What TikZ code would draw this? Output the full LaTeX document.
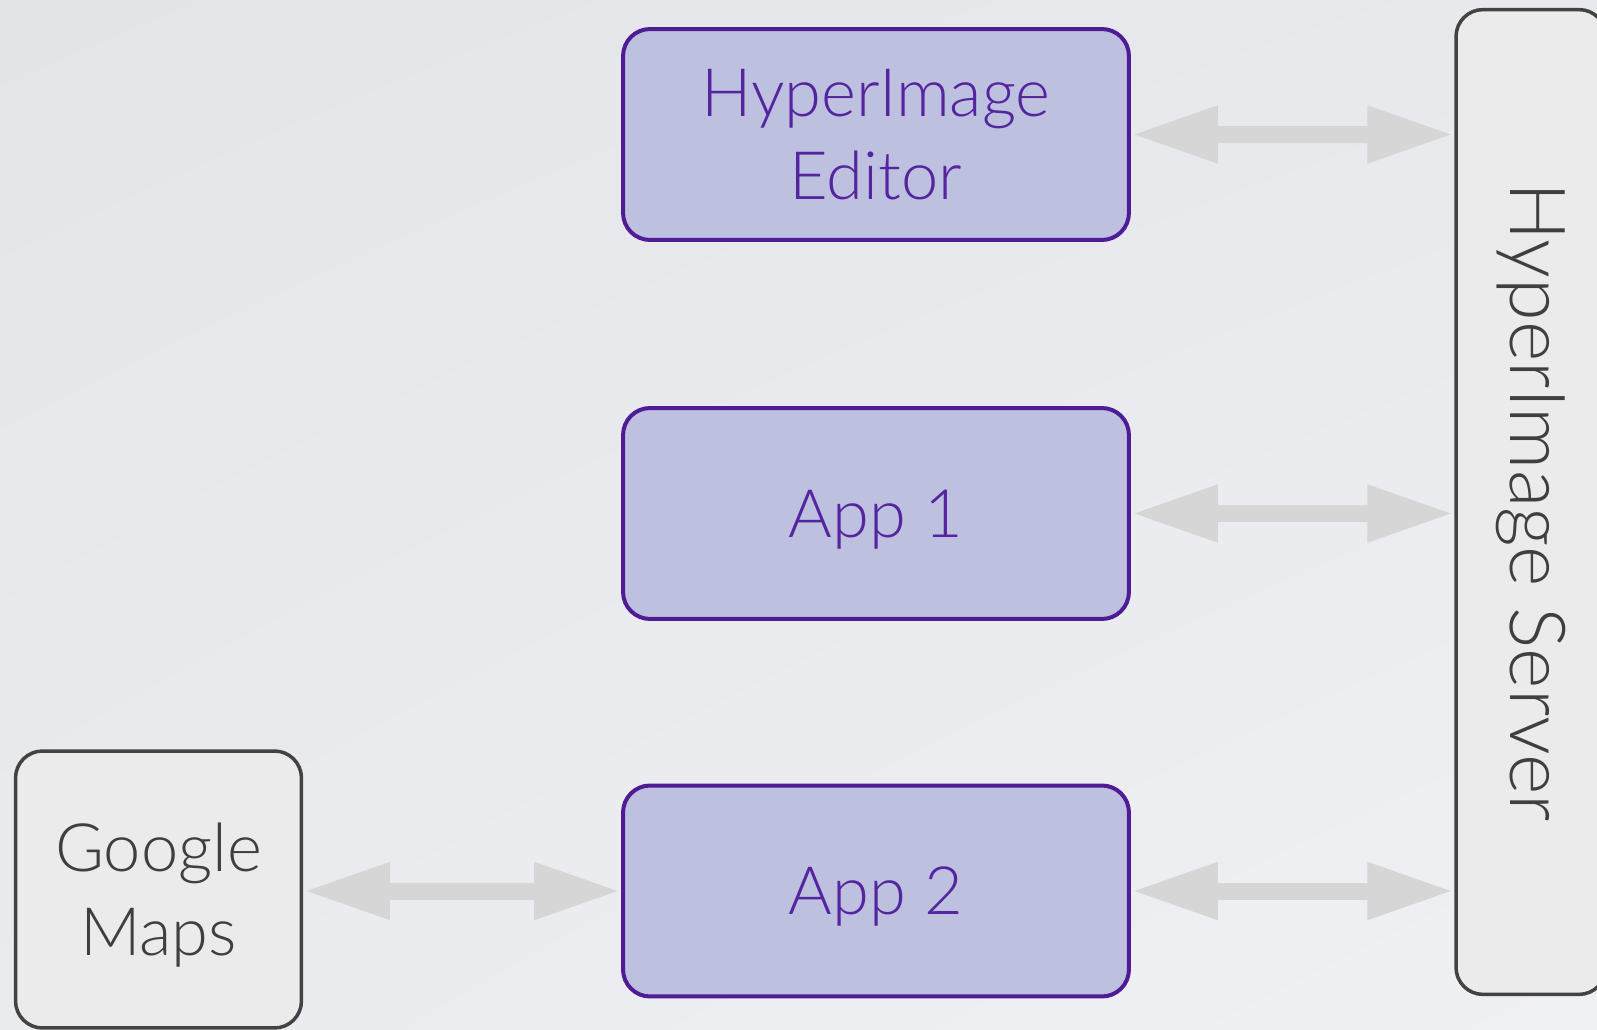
\documentclass[tikz,border=0pt]{standalone}
\usepackage{fontspec}
\setmainfont{Lato}[UprightFont=* Light]
\usetikzlibrary{arrows.meta,shadings}

\definecolor{appfill}{RGB}{189,193,223}
\definecolor{appline}{RGB}{79,28,150}
\definecolor{apptext}{RGB}{85,37,159}
\definecolor{extfill}{RGB}{235,235,235}
\definecolor{extline}{RGB}{67,67,67}
\definecolor{exttext}{RGB}{63,63,63}
\definecolor{linkgray}{RGB}{214,214,214}
\definecolor{bgtl}{RGB}{227,229,233}
\definecolor{bgtr}{RGB}{232,233,237}
\definecolor{bgbl}{RGB}{234,235,238}
\definecolor{bgbr}{RGB}{240,241,244}

\begin{document}
\begin{tikzpicture}[x=0.02cm, y=-0.02cm,
  appbox/.style={rectangle, rounded corners=0.54cm, draw=appline, fill=appfill, line width=0.08cm,
    text=apptext, minimum width=10.12cm, minimum height=4.22cm, align=center, text depth=0pt,
    font=\fontsize{38}{47}\selectfont},
  extbox/.style={rectangle, rounded corners=0.54cm, draw=extline, fill=extfill, line width=0.07cm,
    text=exttext, align=center, font=\fontsize{38}{48}\selectfont},
  link/.style={draw=linkgray, line width=0.34cm,
    {Triangle[length=1.74cm, width=1.06cm]}-{Triangle[length=1.74cm, width=1.06cm]}}]
  % background
  \useasboundingbox (0,0) rectangle (1597,1030);
  \shade[upper left=bgtl, upper right=bgtr, lower left=bgbl, lower right=bgbr]
    (0,0) rectangle (1597,1030);
  % boxes
  \node[appbox] (editor) at (876,134.5) {HyperImage\\Editor};
  \node[appbox] (appone) at (876,513.5) {App 1};
  \node[appbox] (apptwo) at (876,891) {App 2};
  \node[extbox, text depth=0pt, minimum width=5.72cm, minimum height=5.54cm] (gmaps) at (158.5,889.5) {Google\\Maps};
  \node[extbox, rotate=-90, minimum width=19.7cm, minimum height=3cm,
    font=\fontsize{44}{52}\selectfont] (server) at (1531,502) {HyperImage Server};
  % links
  \draw[link] (editor.east) -- (editor.east -| server.south);
  \draw[link] (appone.east) -- (appone.east -| server.south);
  \draw[link] (apptwo.east) -- (apptwo.east -| server.south);
  \draw[link] (apptwo.west -| gmaps.east) -- (apptwo.west);
\end{tikzpicture}
\end{document}
